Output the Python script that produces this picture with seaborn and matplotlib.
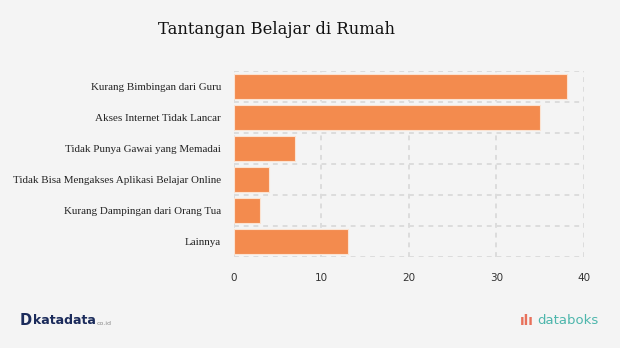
import matplotlib
matplotlib.use("Agg")
import matplotlib.pyplot as plt
import seaborn as sns
import pandas as pd

categories = ["Kurang Bimbingan dari Guru", "Akses Internet Tidak Lancar",
              "Tidak Punya Gawai yang Memadai", "Tidak Bisa Mengakses Aplikasi Belajar Online",
              "Kurang Dampingan dari Orang Tua", "Lainnya"]
values = [38, 35, 7, 4, 3, 13]
xticks = [0, 10, 20, 30, 40]

df = pd.DataFrame({"cat": categories, "val": values})

sns.set_theme(style="white")
bg = "#F4F4F4"
fig = plt.figure(figsize=(6.2, 3.48), dpi=100, facecolor=bg)
ax = fig.add_axes([0.377, 0.262, 0.565, 0.534], facecolor=bg)

sns.barplot(data=df, x="val", y="cat", color="#F38B4E", saturation=1, width=0.82,
            edgecolor="#FBE3D2", linewidth=0.8, ax=ax, zorder=3)

ax.set_xlim(0, 40)
ax.set_ylim(5.5, -0.5)
ax.set_xticks(xticks)
ax.set_xticklabels([str(t) for t in xticks], family="DejaVu Sans", fontsize=7.5, color="#333333")
ax.set_yticks(range(len(categories)))
ax.set_yticklabels(categories, family="Liberation Serif", fontsize=7.9, color="#222222")
ax.grid(False)
for x in xticks:
    ax.axvline(x, color="#DCDCDC", lw=1.4, ls=(0, (2.5, 2.5)), zorder=1)
for y in [i - 0.5 for i in range(len(categories) + 1)]:
    ax.axhline(y, color="#DCDCDC", lw=1.4, ls=(0, (2.5, 2.5)), zorder=1)
for s in ax.spines.values():
    s.set_visible(False)
ax.tick_params(axis="y", which="major", length=5, color="#DDDDDD", width=1.2, pad=4)
ax.tick_params(axis="x", length=0, pad=12)
ax.set_xlabel("")
ax.set_ylabel("")

fig.text(0.255, 0.915, "Tantangan Belajar di Rumah", family="DejaVu Serif", fontsize=11.8,
         color="#111111", ha="left", va="center")

fig.text(0.032, 0.078, "D", family="DejaVu Sans", fontsize=10.5, fontweight="bold",
         color="#1B2B5B", ha="left", va="center")
fig.text(0.054, 0.078, "katadata", family="DejaVu Sans", fontsize=9, fontweight="bold",
         color="#1B2B5B", ha="left", va="center")
fig.text(0.156, 0.070, "co.id", family="DejaVu Sans", fontsize=4.5, color="#888888",
         ha="left", va="center")
fig.text(0.838, 0.078, "ılı", family="DejaVu Sans", fontsize=10, fontweight="bold",
         color="#E8705A", ha="left", va="center")
fig.text(0.866, 0.078, "databoks", family="DejaVu Sans", fontsize=9.5,
         color="#4DB6AC", ha="left", va="center")

fig.savefig("out.png", dpi=100, facecolor=bg)
